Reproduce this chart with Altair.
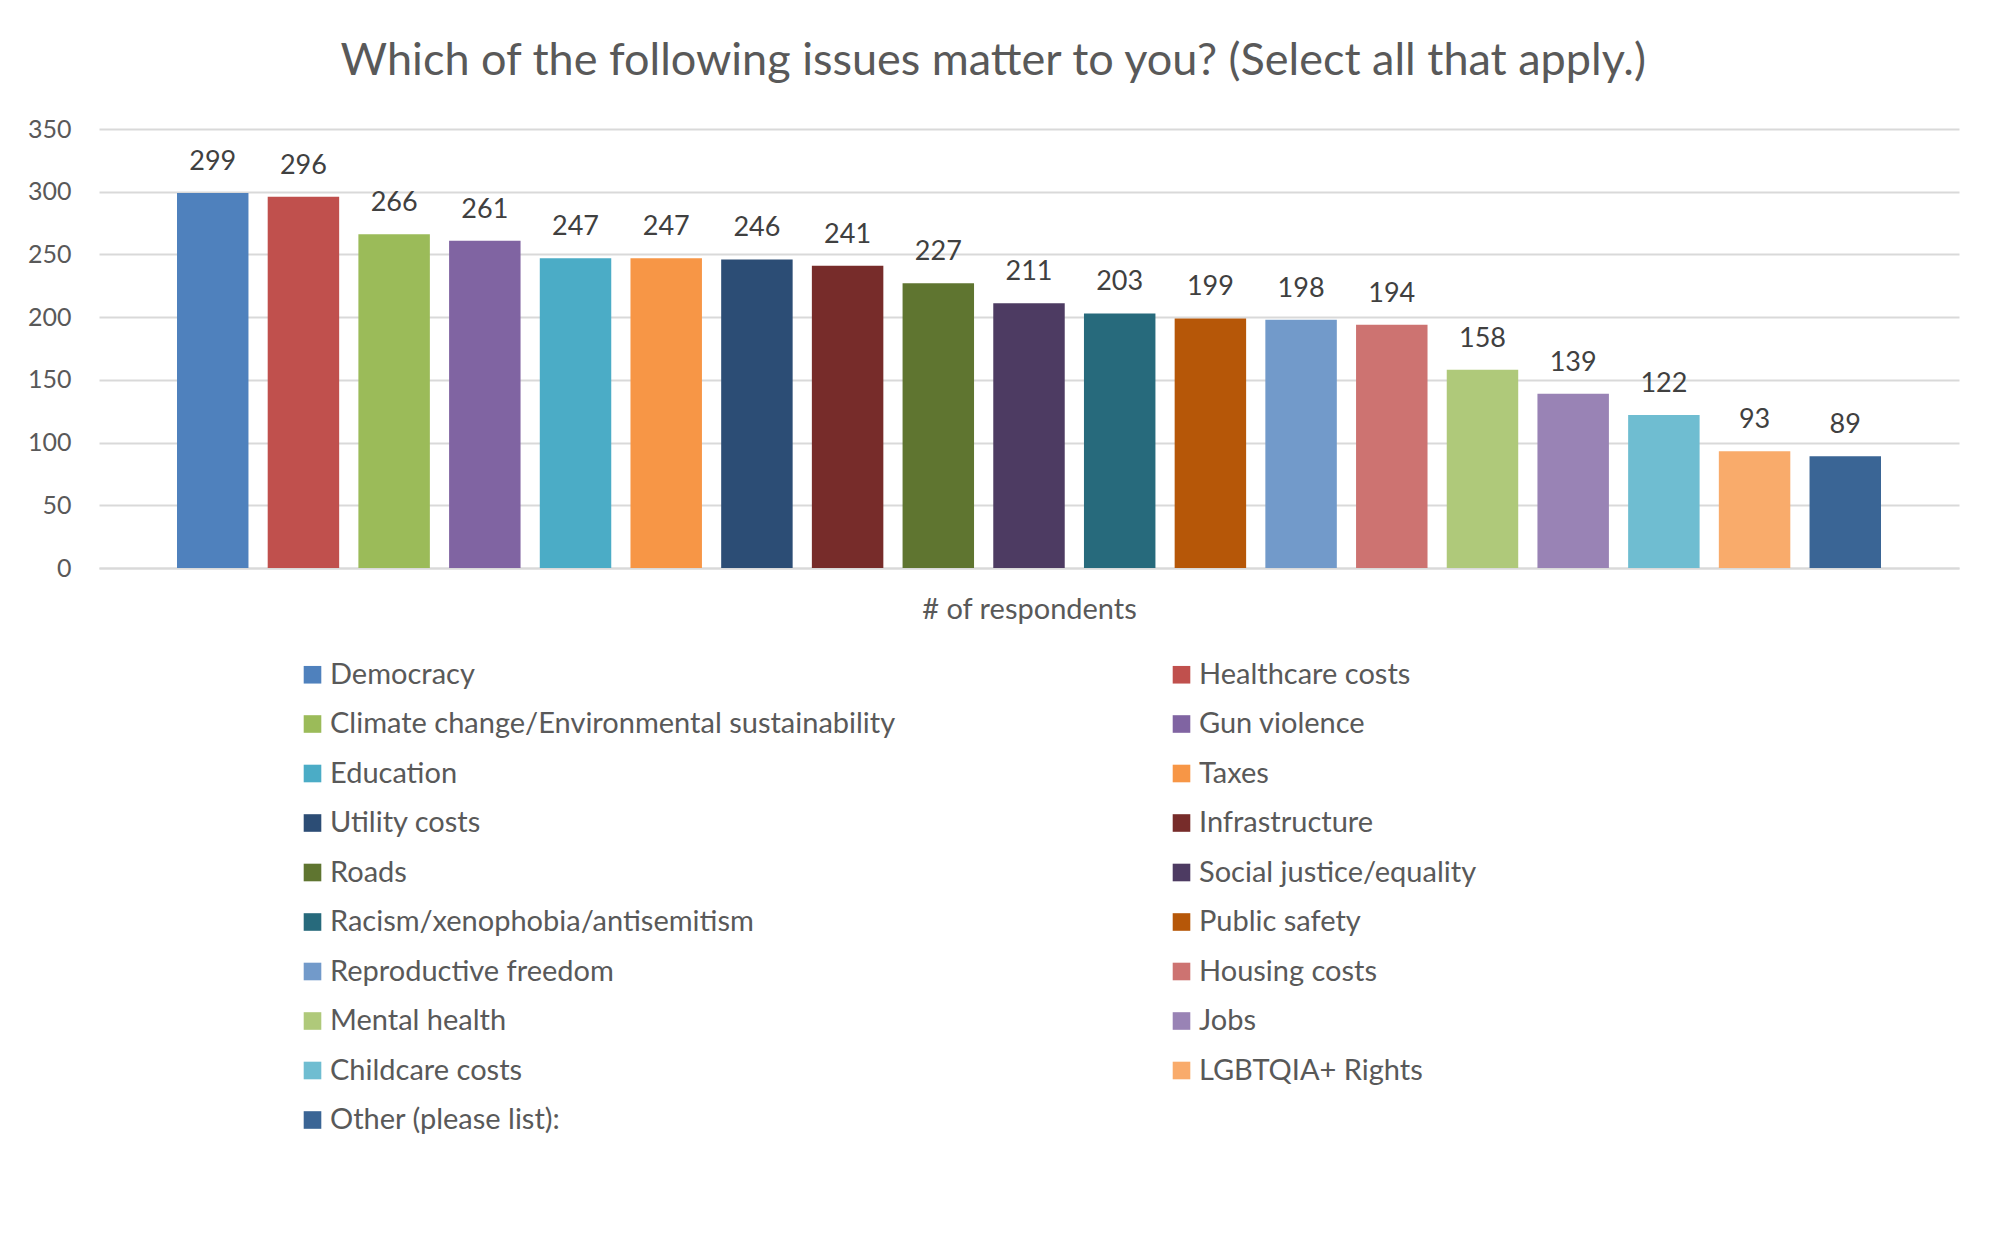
import altair as alt
import pandas as pd

# Survey responses: issues in the order they are plotted (descending count)
issues = [
    "Democracy",
    "Healthcare costs",
    "Climate change/Environmental sustainability",
    "Gun violence",
    "Education",
    "Taxes",
    "Utility costs",
    "Infrastructure",
    "Roads",
    "Social justice/equality",
    "Racism/xenophobia/antisemitism",
    "Public safety",
    "Reproductive freedom",
    "Housing costs",
    "Mental health",
    "Jobs",
    "Childcare costs",
    "LGBTQIA+ Rights",
    "Other (please list):",
]
counts = [299, 296, 266, 261, 247, 247, 246, 241, 227, 211,
          203, 199, 198, 194, 158, 139, 122, 93, 89]

# Office-style series palette
colors = [
    "#4F81BD", "#C0504D", "#9BBB59", "#8064A2", "#4BACC6", "#F79646",
    "#2C4D75", "#772C2A", "#5F7530", "#4D3B62", "#276A7C", "#B65708",
    "#729ACA", "#CD7371", "#AFC97A", "#9983B5", "#6FBDD1", "#F9AB6B",
    "#3A6595",
]

# The legend grid fills column by column; interleave the entries so that
# it reads row by row (two entries per row, in plotting order).
legend_order = issues[0::2] + issues[1::2]
legend_colors = colors[0::2] + colors[1::2]

df = pd.DataFrame({"issue": issues, "count": counts})

FONT = "Lato"
GREY = "#595959"
GRID = "#D9D9D9"

x_enc = alt.X(
    "issue:N",
    sort=issues,
    scale=alt.Scale(paddingInner=0.212, paddingOuter=0.86),
    axis=alt.Axis(
        labels=False,
        ticks=False,
        domainColor=GRID,
        domainWidth=2,
        title="# of respondents",
        titleFont=FONT,
        titleFontSize=29,
        titleFontWeight="normal",
        titleColor=GREY,
        titlePadding=27,
    ),
)
y_enc = alt.Y(
    "count:Q",
    scale=alt.Scale(domain=[0, 350], nice=False),
    axis=alt.Axis(
        values=[0, 50, 100, 150, 200, 250, 300, 350],
        title=None,
        domain=False,
        ticks=False,
        grid=True,
        gridColor=GRID,
        gridWidth=2,
        labelFont=FONT,
        labelFontSize=25,
        labelColor=GREY,
        labelPadding=28,
    ),
)

bars = alt.Chart(df).mark_bar().encode(
    x=x_enc,
    y=y_enc,
    color=alt.Color(
        "issue:N",
        sort=legend_order,
        scale=alt.Scale(domain=legend_order, range=legend_colors),
        legend=alt.Legend(
            title=None,
            orient="none",
            legendX=199,
            legendY=531,
            columns=2,
            columnPadding=271,
            rowPadding=19.5,
            padding=0,
            symbolType="square",
            symbolSize=310,
            symbolStrokeWidth=0,
            labelFont=FONT,
            labelFontSize=29,
            labelColor=GREY,
            labelOffset=3,
            labelLimit=0,
        ),
    ),
)

labels = alt.Chart(df).mark_text(
    dy=-23,
    baseline="alphabetic",
    font=FONT,
    fontSize=27,
    color="#404040",
).encode(
    x=alt.X("issue:N", sort=issues),
    y=alt.Y("count:Q"),
    text=alt.Text("count:Q"),
)

chart = (
    alt.layer(bars, labels)
    .properties(
        width=1860,
        height=439,
        autosize="none",
        background="white",
        padding={"left": 99, "top": 129, "right": 41, "bottom": 680},
        title=alt.TitleParams(
            "Which of the following issues matter to you? (Select all that apply.)",
            font=FONT,
            fontSize=45,
            fontWeight="normal",
            color=GREY,
            anchor="middle",
            frame="bounds",
            offset=33,
        ),
    )
    .configure_view(stroke=None)
)

chart.save("out.html", embed_options={"renderer": "svg", "actions": False})
